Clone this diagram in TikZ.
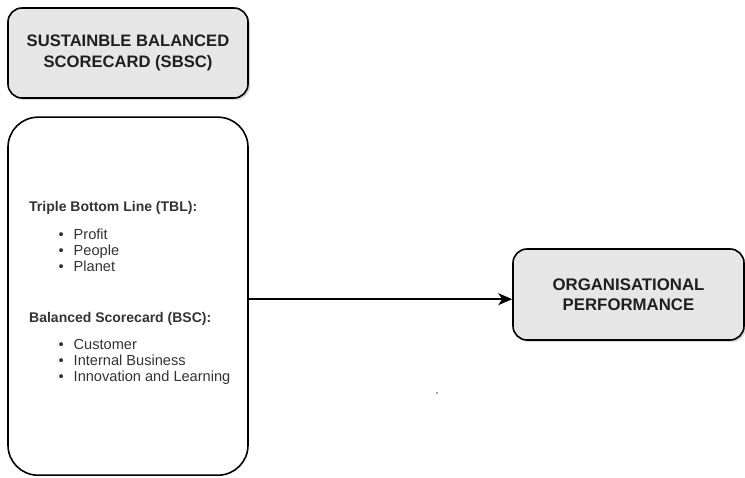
\documentclass[tikz,border=0pt]{standalone}
\usepackage{fontspec}
\setmainfont{Liberation Sans}
\usetikzlibrary{arrows.meta,shadows}
\definecolor{boxgray}{HTML}{E6E6E6}
\definecolor{titletext}{HTML}{1F1F1F}
\definecolor{listtext}{HTML}{333333}
\newcommand*{\listitem}[1]{\makebox[15pt][l]{\textbullet}#1}

\begin{document}
\begin{tikzpicture}[x=1pt,y=-1pt]
        \useasboundingbox (0,0) rectangle (745,478);

        {\tikzstyle{every node}=[rectangle, draw, line width=1.6pt, rounded corners=14pt,
            fill=boxgray, text=titletext, align=center,
            font=\fontsize{16.6}{21.7}\selectfont\bfseries,
            drop shadow={shadow xshift=2pt, shadow yshift=-2pt, opacity=0.3}]
          \node (sbsc) at (128,53) [minimum width=240pt, minimum height=90pt]
            {SUSTAINBLE BALANCED\\SCORECARD (SBSC)};
          \node (perf) at (628.5,294.5) [minimum width=231pt, minimum height=91pt,
            font=\fontsize{16.8}{20}\selectfont\bfseries]
            {ORGANISATIONAL\\PERFORMANCE};
        }

        \node (pillars) at (128,296.2) [rectangle, draw, line width=1.6pt,
          rounded corners=30pt, fill=white, minimum width=240pt, minimum height=358pt] {};

        {\tikzstyle{every node}=[inner sep=0pt, anchor=base west, text=listtext]
          \node (tbl) at (29,211.7) [font=\fontsize{14}{16}\selectfont\bfseries]
            {Triple Bottom Line (TBL):};
          \foreach \item [count=\i] in {Profit, People, Planet}
          {
            \node (tbl\i) at (58.5, 239.3+\i*16.2-16.2) [font=\fontsize{14.6}{16}\selectfont]
              {\listitem{\item}};
          }

          \node (bsc) at (29,322.7) [font=\fontsize{14}{16}\selectfont\bfseries]
            {Balanced Scorecard (BSC):};
          \foreach \item [count=\i] in {Customer, Internal Business, Innovation and Learning}
          {
            \node (bsc\i) at (58.5, 350+\i*16-16) [font=\fontsize{14.6}{16}\selectfont]
              {\listitem{\item}};
          }
        }

        \fill [black!70] (437,393) circle (0.8pt);

        \coordinate (arrowstart) at ([yshift=-3pt]pillars.east);
        \draw [-{Stealth[length=14pt, width=12pt, inset=4pt]}, line width=1.4pt]
          (arrowstart) -- (arrowstart -| perf.west);
      \end{tikzpicture}
\end{document}
